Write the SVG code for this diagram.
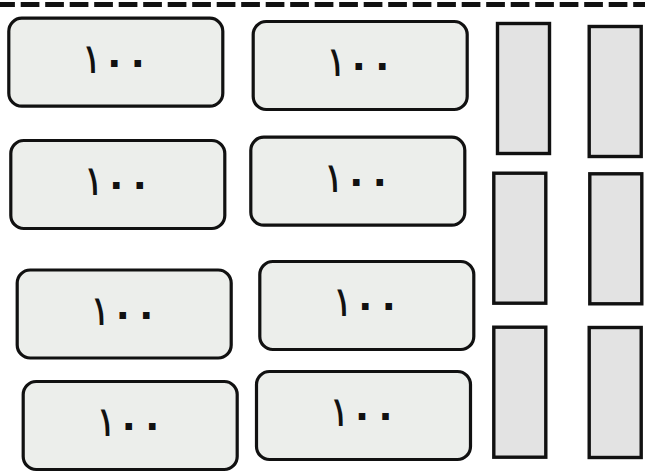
<svg xmlns="http://www.w3.org/2000/svg" width="645" height="476" viewBox="0 0 645 476">
<style>
.card{fill:#eceeeb;stroke:#111;stroke-width:3.2}
.bar{fill:#e3e3e3;stroke:#111;stroke-width:3.4}
.num{font-family:"DejaVu Sans",sans-serif;font-size:42px;fill:#111;text-anchor:middle}
.d{stroke:#111;stroke-width:2.2;font-size:40px}
.dash{stroke:#111;stroke-width:5;stroke-dasharray:18.7 5.8;stroke-dashoffset:3.8;fill:none}
</style>
<rect width="645" height="476" fill="#fff"/>
<g id="connectors">
<line class="dash" x1="0" y1="4.5" x2="645" y2="4.5"/>
</g>
<g id="card1"><rect class="card" x="8.8" y="18.2" width="214" height="88" rx="13"/><text class="num"><tspan x="91.8" y="72.7">١</tspan><tspan class="d" x="114.3 137.8" y="74.7 74.7">٠٠</tspan></text></g>
<g id="card2"><rect class="card" x="253.2" y="21.5" width="214" height="88" rx="13"/><text class="num"><tspan x="336.2" y="76">١</tspan><tspan class="d" x="358.7 382.2" y="78 78">٠٠</tspan></text></g>
<g id="card3"><rect class="card" x="10.8" y="140.5" width="214" height="88" rx="13"/><text class="num"><tspan x="93.8" y="195">١</tspan><tspan class="d" x="116.3 139.8" y="197 197">٠٠</tspan></text></g>
<g id="card4"><rect class="card" x="250.8" y="137.2" width="214" height="88" rx="13"/><text class="num"><tspan x="333.8" y="191.7">١</tspan><tspan class="d" x="356.3 379.8" y="193.7 193.7">٠٠</tspan></text></g>
<g id="card5"><rect class="card" x="17.2" y="270" width="214" height="88" rx="13"/><text class="num"><tspan x="100.2" y="324.5">١</tspan><tspan class="d" x="122.7 146.2" y="326.5 326.5">٠٠</tspan></text></g>
<g id="card6"><rect class="card" x="259.8" y="261.5" width="214" height="88" rx="13"/><text class="num"><tspan x="342.8" y="316">١</tspan><tspan class="d" x="365.3 388.8" y="318 318">٠٠</tspan></text></g>
<g id="card7"><rect class="card" x="23.2" y="381.5" width="214" height="88" rx="13"/><text class="num"><tspan x="106.2" y="436">١</tspan><tspan class="d" x="128.7 152.2" y="438 438">٠٠</tspan></text></g>
<g id="card8"><rect class="card" x="256.5" y="371.5" width="214" height="88" rx="13"/><text class="num"><tspan x="339.5" y="426">١</tspan><tspan class="d" x="362 385.5" y="428 428">٠٠</tspan></text></g>
<g id="barA"><rect class="bar" x="497.5" y="23.5" width="52" height="130"/></g>
<g id="barB"><rect class="bar" x="589.2" y="26.5" width="52" height="130"/></g>
<g id="barC"><rect class="bar" x="493.8" y="173.2" width="52" height="130"/></g>
<g id="barD"><rect class="bar" x="589.8" y="173.8" width="52" height="130"/></g>
<g id="barE"><rect class="bar" x="493.8" y="327.2" width="52" height="130"/></g>
<g id="barF"><rect class="bar" x="589.2" y="327.5" width="52" height="130"/></g>
</svg>
